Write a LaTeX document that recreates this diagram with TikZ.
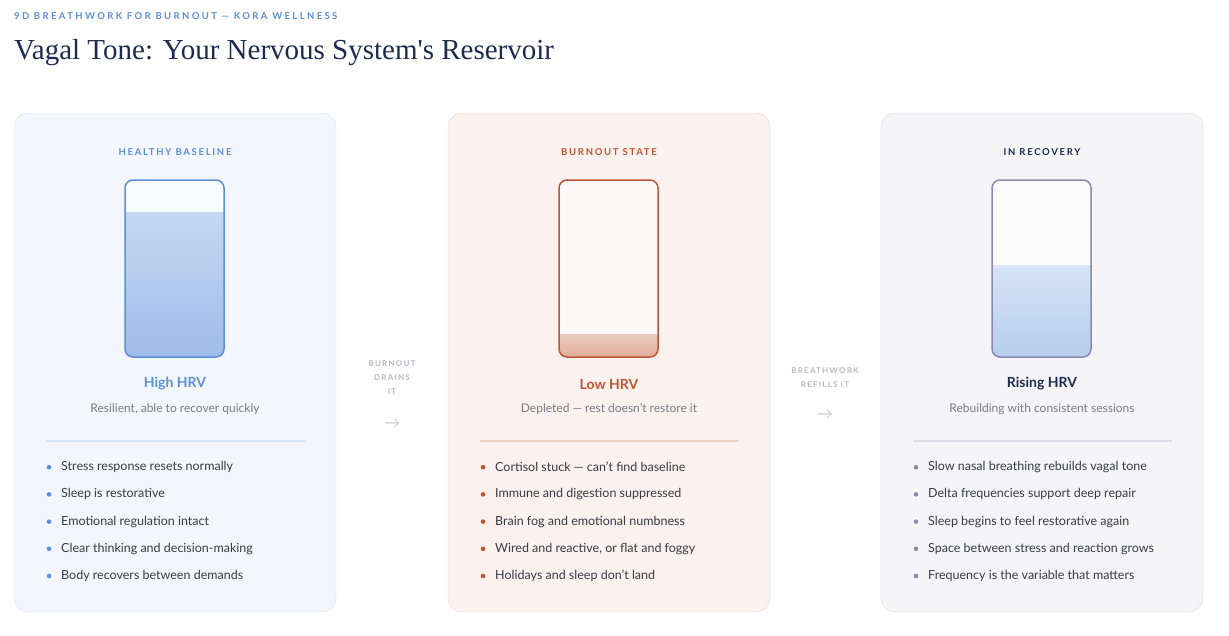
\documentclass[tikz,border=0pt]{standalone}
\usepackage{fontspec}
\setmainfont{Lato}
\newfontfamily\titlefont{Liberation Serif}
\definecolor{bl}{HTML}{5B8FD9}
\definecolor{blf}{HTML}{F3F6FC}
\definecolor{blb}{HTML}{D6E2F5}
\definecolor{orr}{HTML}{C0552F}
\definecolor{orf}{HTML}{FBF1EF}
\definecolor{orb}{HTML}{F0D2CA}
\definecolor{nv}{HTML}{1E2A50}
\definecolor{pu}{HTML}{8A8AAE}
\definecolor{puf}{HTML}{F5F5F8}
\definecolor{pub}{HTML}{DCDCE4}
\definecolor{txt}{HTML}{3A3A44}
\definecolor{gr}{HTML}{7A7A84}
\definecolor{lg}{HTML}{B8B8C0}
\tikzset{x=1pt,y=-1pt,
 hdr/.style={font=\fontsize{9.5}{11}\selectfont\bfseries\addfontfeatures{LetterSpace=18}},
 hrv/.style={font=\fontsize{14}{16}\selectfont\bfseries},
 sub/.style={font=\fontsize{12}{14}\selectfont,text=gr},
 bul/.style={font=\fontsize{12.5}{14}\selectfont,text=txt,anchor=west,inner sep=0},
 side/.style={font=\fontsize{8}{14}\selectfont\bfseries\addfontfeatures{LetterSpace=15},text=lg,align=center}}
\newcommand\card[9]{% x, fill, border, accent, jarborder, top, gradtop, gradbot, name
 \draw[fill=#2,draw=#3,rounded corners=14] (#1,113) rectangle ++(322,499);
 \fill[white!60!#2,rounded corners=8] (#1+111,180) rectangle ++(99,177);
 \begin{scope}
 \clip[rounded corners=8] (#1+111,180) rectangle ++(99,177);
 \shade[top color=#7,bottom color=#8] (#1+108,#6) rectangle (#1+213,360);
 \end{scope}
 \draw[#5,line width=1.5,rounded corners=8] (#1+111,180) rectangle ++(99,177);
 \draw[#3,line width=1.2] (#1+32,441) -- (#1+291,441);
}
\begin{document}
\begin{tikzpicture}
\useasboundingbox[fill=white] (0,0) rectangle (1229,635);
\node[anchor=west,inner sep=0,text=bl,font=\fontsize{9.5}{11}\selectfont\bfseries\addfontfeatures{LetterSpace=25}] (kick) at (14,16) {9D BREATHWORK FOR BURNOUT — KORA WELLNESS};
\node[anchor=west,inner sep=0,text=nv,font=\titlefont\fontsize{29}{32}\selectfont] (title) at (14,53) {Vagal Tone: Your Nervous System's Reservoir};
\card{14}{blf}{blb}{bl}{bl}{212}{bl!35}{bl!60}{a}
\card{448}{orf}{orb}{orr}{orr}{334}{orr!30}{orr!50}{b}
\card{881}{puf}{pub}{nv}{pu}{265}{bl!25}{bl!45}{c}
\node[hdr,text=bl] (h1) at (175,152) {HEALTHY BASELINE};
\node[hdr,text=orr] (h2) at (609,152) {BURNOUT STATE};
\node[hdr,text=nv] (h3) at (1042,152) {IN RECOVERY};
\node[hrv,text=bl] (r1) at (175,384) {High HRV};
\node[hrv,text=orr] (r2) at (609,384) {Low HRV};
\node[hrv,text=nv] (r3) at (1042,384) {Rising HRV};
\node[sub] (s1) at (175,409) {Resilient, able to recover quickly};
\node[sub] (s2) at (609,409) {Depleted — rest doesn’t restore it};
\node[sub] (s3) at (1042,409) {Rebuilding with consistent sessions};
\foreach \t [count=\i] in {Stress response resets normally,Sleep is restorative,Emotional regulation intact,Clear thinking and decision-making,Body recovers between demands}{
 \fill[bl] (49,440+27.2*\i) circle (2.3);
 \node[bul] (a\i) at (61,440+27.2*\i) {\t};}
\foreach \t [count=\i] in {Cortisol stuck — can’t find baseline,Immune and digestion suppressed,Brain fog and emotional numbness,{Wired and reactive, or flat and foggy},Holidays and sleep don’t land}{
 \fill[orr] (483,440+27.2*\i) circle (2.3);
 \node[bul] (b\i) at (495,440+27.2*\i) {\t};}
\foreach \t [count=\i] in {Slow nasal breathing rebuilds vagal tone,Delta frequencies support deep repair,Sleep begins to feel restorative again,Space between stress and reaction grows,Frequency is the variable that matters}{
 \fill[pu] (916,440+27.2*\i) circle (2.3);
 \node[bul] (c\i) at (928,440+27.2*\i) {\t};}
\node[side] (l1) at (392,378) {BURNOUT\\DRAINS\\IT};
\node[side] (l2) at (825,378) {BREATHWORK\\REFILLS IT};
\node[text=lg!70,font=\fontsize{16}{16}\selectfont] (ar1) at (392,424) {→};
\node[text=lg!70,font=\fontsize{16}{16}\selectfont] (ar2) at (825,415) {→};
\end{tikzpicture}
\end{document}
